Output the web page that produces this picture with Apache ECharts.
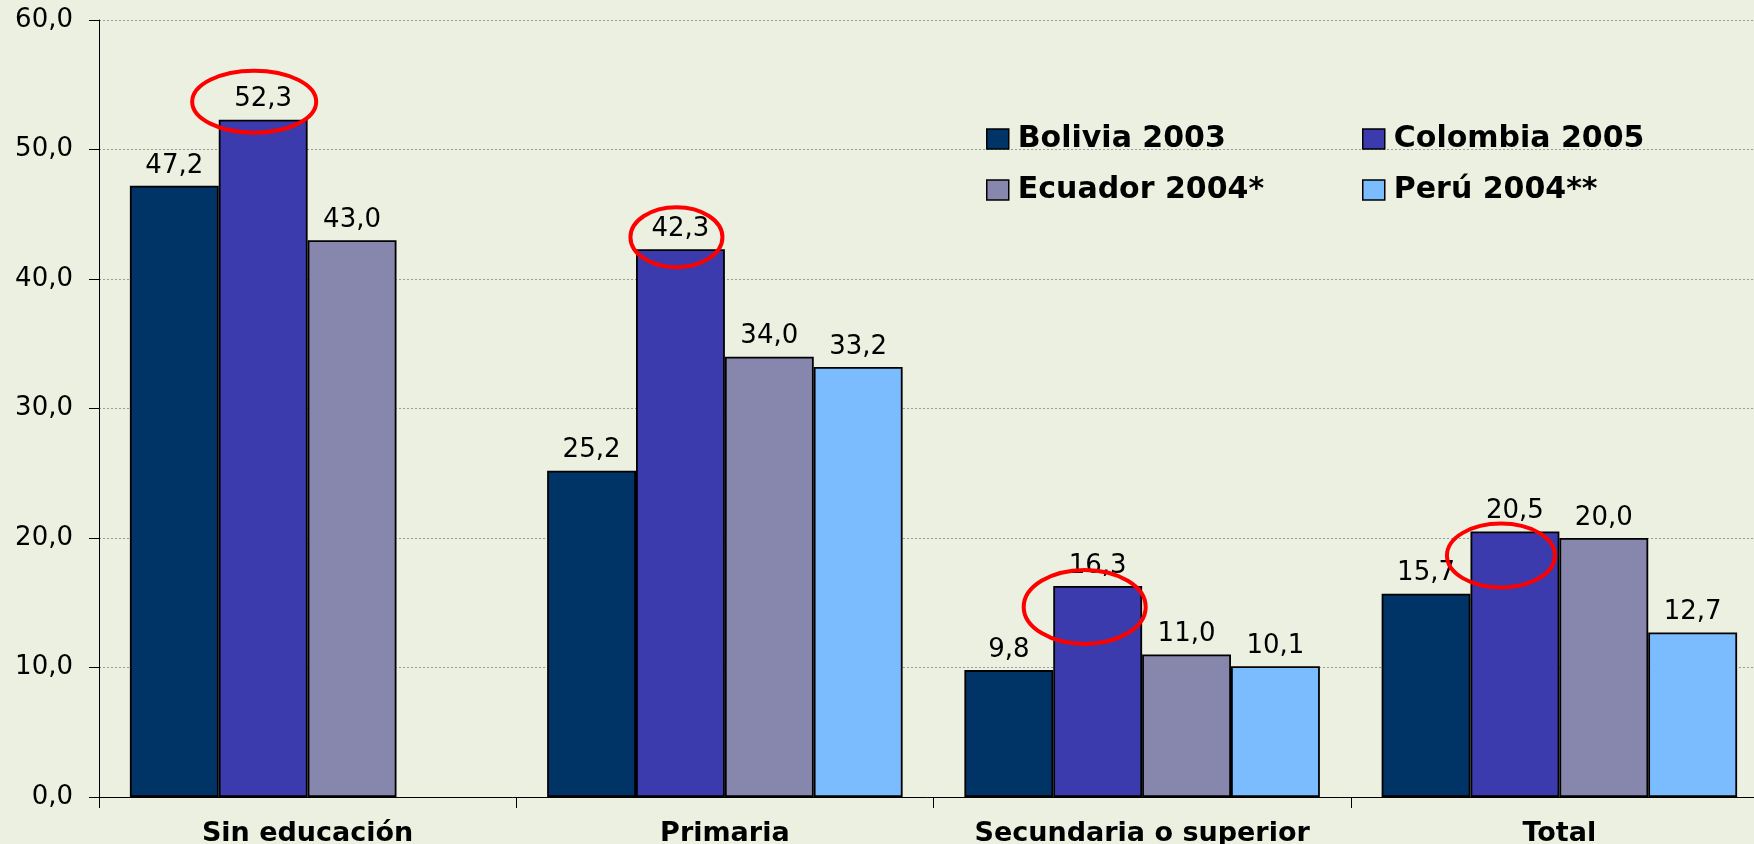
<!DOCTYPE html>
<html><head><meta charset="utf-8">
<script src="https://cdn.jsdelivr.net/npm/echarts@6/dist/echarts.min.js"></script>
<style>html,body{margin:0;padding:0;background:#ECF0E0;overflow:hidden}#c{width:1754px;height:844px}</style>
</head><body><div id="c"></div>
<script>
// ---- data ----
const categories = ['Sin educación', 'Primaria', 'Secundaria o superior', 'Total'];
const seriesNames = ['Bolivia 2003', 'Colombia 2005', 'Ecuador 2004*', 'Perú 2004**'];
const bolivia  = [47.2, 25.2, 9.8, 15.7];
const colombia = [52.3, 42.3, 16.3, 20.5];
const ecuador  = [43.0, 34.0, 11.0, 20.0];
const peru     = ['-', 33.2, 10.1, 12.7];
const yMin = 0, yMax = 60, yStep = 10;
// circled bars: series index 1 (Colombia), all categories
const circledSeries = 1;
const circledIdx = [0, 1, 2, 3];

// ---- styles ----
const colors = ['#003366', '#3B3BAE', '#8787AE', '#7BBCFF'];
const ellipseStyle = [ // offset from bar top-centre, radii
  {dx: -9, dy: -18, rx: 62, ry: 31},
  {dx: -4, dy: -12, rx: 46, ry: 30},
  {dx: -13, dy: 21, rx: 61, ry: 37},
  {dx: -14, dy: 24, rx: 54, ry: 32}
];
const FONT = 'DejaVu Sans';
const fmt = v => (typeof v === 'number') ? v.toFixed(1).replace('.', ',') : '';

const chart = echarts.init(document.getElementById('c'), null, {renderer: 'canvas'});
const allData = [bolivia, colombia, ecuador, peru];

const legendCommon = {
  orient: 'vertical', top: 119, itemGap: 21,
  itemWidth: 22, itemHeight: 20, icon: 'rect',
  textStyle: {fontFamily: FONT, fontWeight: 'bold', fontSize: 30, color: '#000', padding: [0, 0, 0, 4]},
  itemStyle: {borderColor: '#000', borderWidth: 1.5}
};

const option = {
  backgroundColor: '#ECF0E0',
  animation: false,
  grid: {left: 99, top: 20, width: 1669, height: 777, containLabel: false, outerBoundsMode: 'none'},
  legend: [
    Object.assign({data: [seriesNames[0], seriesNames[2]], left: 981}, legendCommon),
    Object.assign({data: [seriesNames[1], seriesNames[3]], left: 1357}, legendCommon)
  ],
  xAxis: {
    type: 'category', data: categories,
    axisLine: {lineStyle: {color: '#000', width: 1}},
    axisTick: {show: true, length: 11, interval: 0, lineStyle: {color: '#000'}},
    axisLabel: {interval: 0, margin: 23, fontFamily: FONT, fontWeight: 'bold', fontSize: 27, color: '#000'}
  },
  yAxis: {
    type: 'value', min: yMin, max: yMax, interval: yStep,
    axisLine: {show: true, lineStyle: {color: '#000', width: 1}},
    axisTick: {show: true, length: 10, lineStyle: {color: '#000'}},
    axisLabel: {margin: 26, fontFamily: FONT, fontSize: 26, color: '#000', formatter: v => fmt(v)},
    splitLine: {show: true, lineStyle: {color: '#9a9a9a', type: [2, 2], width: 1}}
  },
  series: allData.map((d, i) => ({
    name: seriesNames[i], type: 'bar', data: d,
    barGap: '0%', barCategoryGap: '14.8%',
    itemStyle: {color: colors[i], borderColor: '#000', borderWidth: 1.8},
    label: {show: true, position: 'top', distance: 7, fontFamily: FONT, fontSize: 26, color: '#000',
            formatter: p => fmt(p.value)}
  }))
};
chart.setOption(option);

// red ellipses around Colombia labels
function barTop(si, idx) {
  try {
    const data = chart.getModel().getSeriesByIndex(si).getData();
    const l = data.getItemLayout(idx);
    if (l) return [l.x + l.width / 2, Math.min(l.y, l.y + l.height)];
  } catch (e) {}
  return chart.convertToPixel({seriesIndex: si}, [idx, allData[si][idx]]);
}
const graphics = circledIdx.map((idx, k) => {
  const p = barTop(circledSeries, idx);
  const s = ellipseStyle[k];
  return {type: 'ellipse', z: 100, silent: true,
          shape: {cx: p[0] + s.dx, cy: p[1] + s.dy, rx: s.rx, ry: s.ry},
          style: {fill: 'none', stroke: '#FF0000', lineWidth: 4}};
});
chart.setOption({graphic: graphics});
</script></body></html>
